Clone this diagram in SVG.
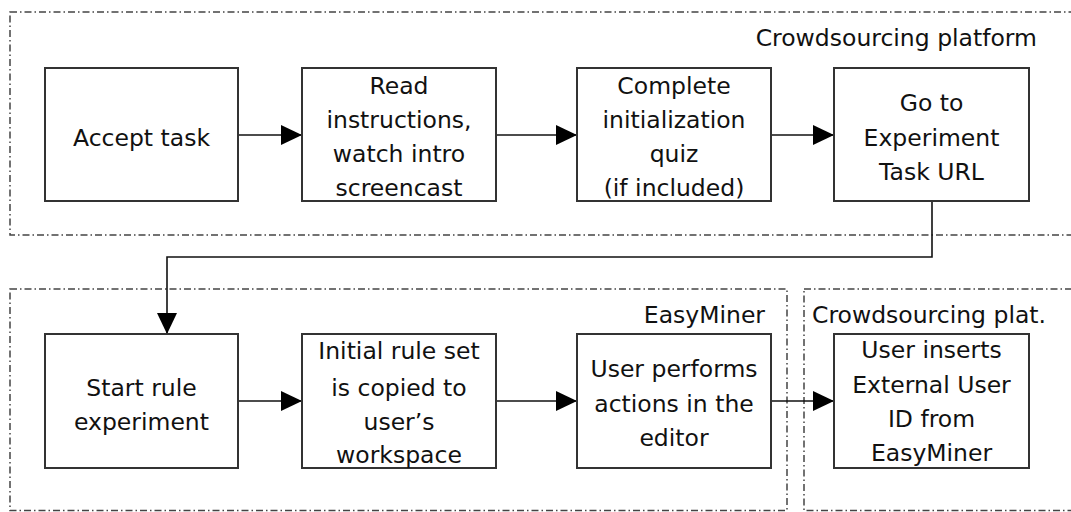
<svg xmlns="http://www.w3.org/2000/svg" width="1071" height="512" viewBox="0 0 1071 512">
<style>
.cont{fill:none;stroke:#444;stroke-width:1.5;stroke-dasharray:7,3,1.5,3}
.box{fill:#fff;stroke:#333;stroke-width:2}
.lbl{font-family:"DejaVu Sans",sans-serif;font-size:23.5px;fill:#111;text-anchor:middle}
.clbl{font-family:"DejaVu Sans",sans-serif;font-size:23.5px;fill:#111}
.conn{fill:none;stroke:#111;stroke-width:1.6}
</style>
<defs>
<marker id="arr" markerWidth="21" markerHeight="20" refX="21" refY="10" orient="auto" markerUnits="userSpaceOnUse">
<path d="M0,0 L21,10 L0,20 Z" fill="#000"/>
</marker>
</defs>
<rect width="1071" height="512" fill="#fff"/>
<g id="containers">
<rect class="cont" x="10" y="12" width="1080" height="223"/>
<text class="clbl" x="1037" y="46" text-anchor="end">Crowdsourcing platform</text>
<rect class="cont" x="10" y="289" width="777" height="221.5"/>
<text class="clbl" x="765" y="323" text-anchor="end">EasyMiner</text>
<rect class="cont" x="804" y="289" width="300" height="221.5"/>
<text class="clbl" x="812" y="323">Crowdsourcing plat.</text>
</g>
<g id="connectors">
<line class="conn" x1="238" y1="135" x2="302" y2="135" marker-end="url(#arr)"/>
<line class="conn" x1="496" y1="135" x2="577" y2="135" marker-end="url(#arr)"/>
<line class="conn" x1="771" y1="135" x2="834" y2="135" marker-end="url(#arr)"/>
<polyline class="conn" points="932,201 932,257 167,257 167,334" marker-end="url(#arr)"/>
<line class="conn" x1="238" y1="401" x2="302" y2="401" marker-end="url(#arr)"/>
<line class="conn" x1="496" y1="401" x2="577" y2="401" marker-end="url(#arr)"/>
<line class="conn" x1="771" y1="401" x2="834" y2="401" marker-end="url(#arr)"/>
</g>
<g id="n1">
<rect class="box" x="45" y="68" width="193" height="133"/>
<text class="lbl" x="141.5" y="146">Accept task</text>
</g>
<g id="n2">
<rect class="box" x="302" y="68" width="194" height="133"/>
<text class="lbl" x="399" y="93.5">Read</text>
<text class="lbl" x="399" y="127.5">instructions,</text>
<text class="lbl" x="399" y="162">watch intro</text>
<text class="lbl" x="399" y="196">screencast</text>
</g>
<g id="n3">
<rect class="box" x="577" y="68" width="194" height="133"/>
<text class="lbl" x="674" y="93.5">Complete</text>
<text class="lbl" x="674" y="127.5">initialization</text>
<text class="lbl" x="674" y="162">quiz</text>
<text class="lbl" x="674" y="196">(if included)</text>
</g>
<g id="n4">
<rect class="box" x="834" y="68" width="195" height="133"/>
<text class="lbl" x="931.5" y="111">Go to</text>
<text class="lbl" x="931.5" y="145.5">Experiment</text>
<text class="lbl" x="931.5" y="180">Task URL</text>
</g>
<g id="n5">
<rect class="box" x="45" y="334" width="193" height="134"/>
<text class="lbl" x="141.5" y="395.5">Start rule</text>
<text class="lbl" x="141.5" y="430">experiment</text>
</g>
<g id="n6">
<rect class="box" x="302" y="334" width="194" height="134"/>
<text class="lbl" x="399" y="358.5">Initial rule set</text>
<text class="lbl" x="399" y="395.5">is copied to</text>
<text class="lbl" x="399" y="430">user’s</text>
<text class="lbl" x="399" y="462.5">workspace</text>
</g>
<g id="n7">
<rect class="box" x="577" y="334" width="194" height="134"/>
<text class="lbl" x="674" y="376.5">User performs</text>
<text class="lbl" x="674" y="412">actions in the</text>
<text class="lbl" x="674" y="445.5">editor</text>
</g>
<g id="n8">
<rect class="box" x="834" y="334" width="195" height="134"/>
<text class="lbl" x="931.5" y="357.5">User inserts</text>
<text class="lbl" x="931.5" y="392.5">External User</text>
<text class="lbl" x="931.5" y="426.5">ID from</text>
<text class="lbl" x="931.5" y="460.5">EasyMiner</text>
</g>
</svg>
